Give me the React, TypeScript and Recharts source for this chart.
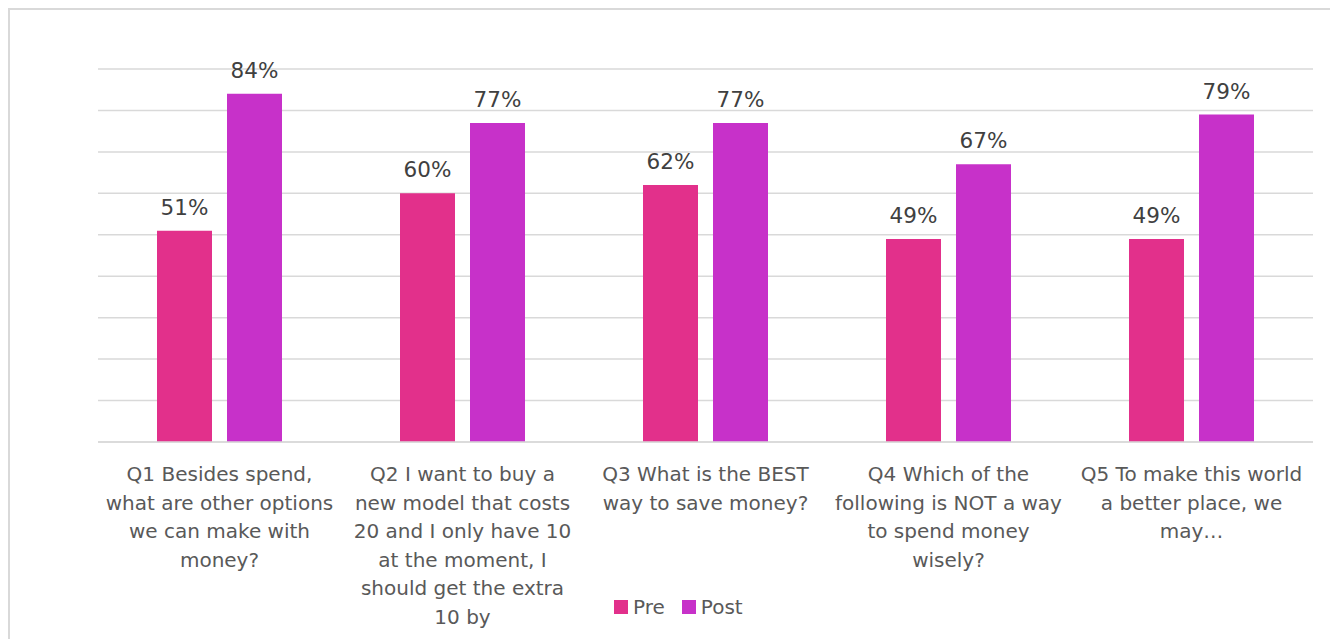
import {
    BarChart,
    Bar,
    XAxis,
    YAxis,
    CartesianGrid,
    Legend,
    LabelList,
} from "recharts";

const categories = ["Q1", "Q2", "Q3", "Q4", "Q5"];

const categoryLines: string[][] = [
    ["Q1 Besides spend,", "what are other options", "we can make with", "money?"],
    [
        "Q2 I want to buy a",
        "new model that costs",
        "20 and I only have 10",
        "at the moment, I",
        "should get the extra",
        "10 by",
    ],
    ["Q3 What is the BEST", "way to save money?"],
    ["Q4 Which of the", "following is NOT a way", "to spend money", "wisely?"],
    ["Q5 To make this world", "a better place, we", "may…"],
];

const preValues = [0.51, 0.6, 0.62, 0.49, 0.49];
const postValues = [0.84, 0.77, 0.77, 0.67, 0.79];

const yTicks = [0, 0.1, 0.2, 0.3, 0.4, 0.5, 0.6, 0.7, 0.8, 0.9];

const data = categories.map((c, i) => ({
    name: c,
    pre: preValues[i],
    post: postValues[i],
}));

const FONT = "'DejaVu Sans', Verdana, sans-serif";
const PRE_COLOR = "#e2308b";
const POST_COLOR = "#c731c9";

function CategoryTick(props: any) {
    const { x, y, index } = props;
    const lines = categoryLines[index] || [];
    return (
        <text
            x={x}
            y={y}
            textAnchor="middle"
            fill="#595959"
            fontSize={20}
            fontFamily={FONT}
        >
            {lines.map((line, i) => (
                <tspan key={i} x={x} y={y + 31 + i * 28.6}>
                    {line}
                </tspan>
            ))}
        </text>
    );
}

function LegendContent() {
    const items = [
        { label: "Pre", color: PRE_COLOR },
        { label: "Post", color: POST_COLOR },
    ];
    return (
        <div
            style={{
                display: "flex",
                height: 30,
                alignItems: "center",
                fontFamily: FONT,
                fontSize: 20,
                color: "#595959",
            }}
        >
            {items.map((it) => (
                <div
                    key={it.label}
                    style={{ display: "flex", alignItems: "center", marginRight: 17 }}
                >
                    <span
                        style={{
                            display: "inline-block",
                            width: 14,
                            height: 14,
                            background: it.color,
                            marginRight: 5,
                        }}
                    />
                    <span>{it.label}</span>
                </div>
            ))}
        </div>
    );
}

export default function App() {
    return (
        <div
            style={{
                position: "fixed",
                left: 8,
                top: 8,
                width: 1322,
                height: 631,
                borderLeft: "2px solid #d9d9d9",
                borderTop: "2px solid #d9d9d9",
                background: "#fff",
                overflow: "hidden",
            }}
        >
            <BarChart
                width={1320}
                height={628}
                data={data}
                margin={{ top: 59, right: 17, left: 88, bottom: 0 }}
                barGap={15}
                barSize={55}
            >
                <CartesianGrid
                    vertical={false}
                    stroke="#d9d9d9"
                    strokeWidth={1.5}
                />
                <YAxis
                    hide={true}
                    domain={[0, 0.9]}
                    ticks={yTicks}
                    allowDataOverflow={true}
                />
                <XAxis
                    dataKey="name"
                    tickLine={false}
                    axisLine={{ stroke: "#d9d9d9", strokeWidth: 1.5 }}
                    interval={0}
                    height={166}
                    tick={<CategoryTick />}
                />
                <Legend
                    verticalAlign="bottom"
                    content={<LegendContent />}
                    wrapperStyle={{ bottom: 16, left: 604, width: 180 }}
                />
                <Bar dataKey="pre" name="Pre" fill={PRE_COLOR} isAnimationActive={false}>
                    <LabelList
                        dataKey="pre"
                        position="top"
                        offset={16}
                        fill="#404040"
                        fontSize={21.5}
                        fontFamily={FONT}
                        formatter={(v: any) => `${Math.round(v * 100)}%`}
                    />
                </Bar>
                <Bar dataKey="post" name="Post" fill={POST_COLOR} isAnimationActive={false}>
                    <LabelList
                        dataKey="post"
                        position="top"
                        offset={16}
                        fill="#404040"
                        fontSize={21.5}
                        fontFamily={FONT}
                        formatter={(v: any) => `${Math.round(v * 100)}%`}
                    />
                </Bar>
            </BarChart>
        </div>
    );
}
